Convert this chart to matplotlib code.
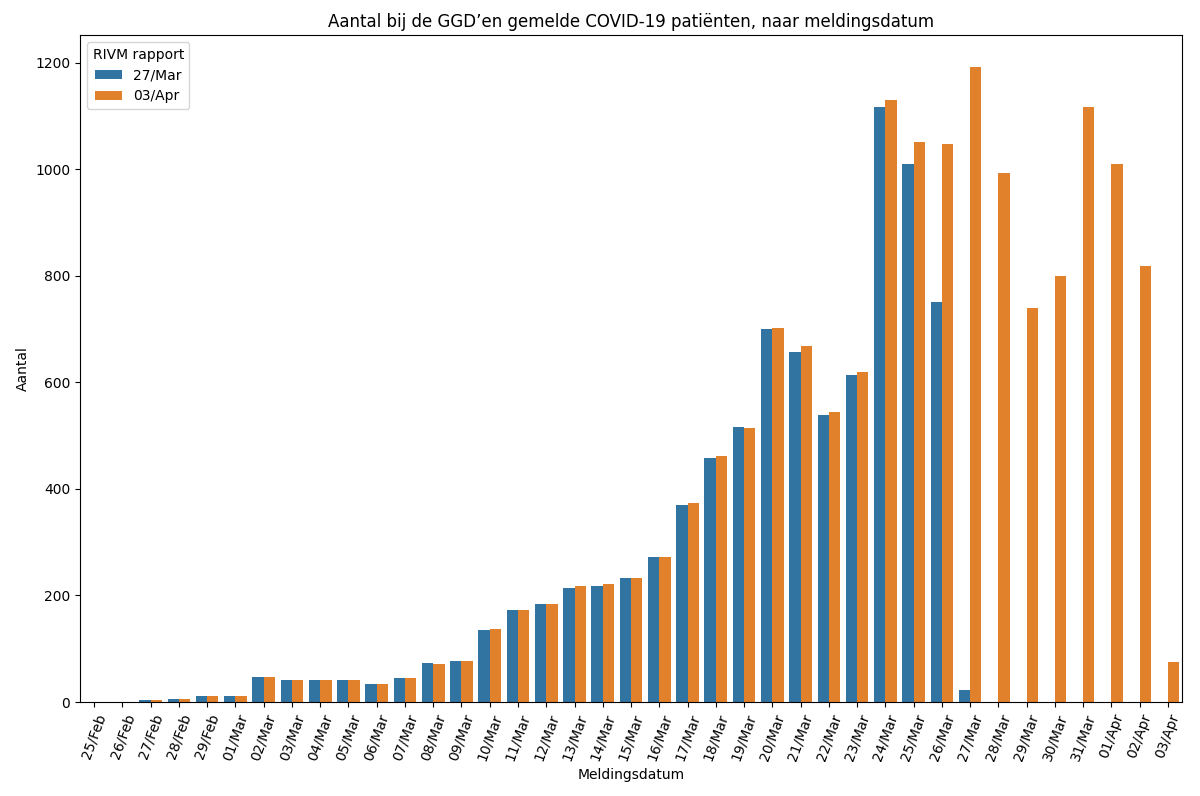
import matplotlib
matplotlib.use('Agg')
import matplotlib.pyplot as plt
import seaborn as sns
import pandas as pd
import numpy as np

datums = ['25/Feb', '26/Feb', '27/Feb', '28/Feb', '29/Feb',
          '01/Mar', '02/Mar', '03/Mar', '04/Mar', '05/Mar', '06/Mar', '07/Mar',
          '08/Mar', '09/Mar', '10/Mar', '11/Mar', '12/Mar', '13/Mar', '14/Mar',
          '15/Mar', '16/Mar', '17/Mar', '18/Mar', '19/Mar', '20/Mar', '21/Mar',
          '22/Mar', '23/Mar', '24/Mar', '25/Mar', '26/Mar', '27/Mar', '28/Mar',
          '29/Mar', '30/Mar', '31/Mar', '01/Apr', '02/Apr', '03/Apr']

# rapport van 27 maart (nog geen data na 27/Mar)
rapport_27mar = [0, 0, 3, 5, 12, 12, 47, 41, 41, 41, 34, 45, 73, 77, 135, 173, 184,
                 214, 218, 233, 272, 370, 458, 516, 700, 657, 539, 614, 1117, 1010,
                 751, 22]
# rapport van 3 april
rapport_03apr = [0, 0, 3, 5, 12, 12, 47, 41, 41, 41, 34, 45, 71, 77, 137, 173, 184,
                 218, 222, 233, 272, 374, 462, 515, 702, 669, 545, 620, 1130, 1050,
                 1048, 1192, 993, 740, 800, 1117, 1010, 819, 75]

rapporten = ['27/Mar', '03/Apr']

rijen = []
for i, d in enumerate(datums):
    if i < len(rapport_27mar):
        rijen.append((d, rapporten[0], rapport_27mar[i]))
    rijen.append((d, rapporten[1], rapport_03apr[i]))
df = pd.DataFrame(rijen, columns=['Meldingsdatum', 'RIVM rapport', 'Aantal'])

fig = plt.figure(figsize=(12, 7.96), dpi=100)
ax = sns.barplot(data=df, x='Meldingsdatum', y='Aantal', hue='RIVM rapport',
                 order=datums, hue_order=rapporten)
ax.set_title('Aantal bij de GGD\u2019en gemelde COVID-19 patiënten, naar meldingsdatum')
plt.xticks(rotation=70)
ax.legend(title='RIVM rapport', loc='upper left')
plt.subplots_adjust(left=0.0667, right=0.985, top=0.956, bottom=0.118)
plt.savefig('out.png')
